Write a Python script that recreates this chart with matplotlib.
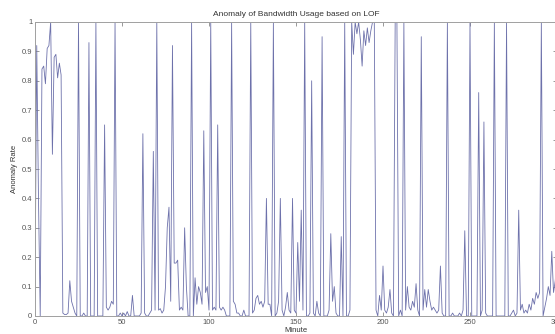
import matplotlib.pyplot as plt

# Anomaly rate per minute (LOF score, 0..300 min)
minutes = list(range(0, 301))
anomaly_rate = [
    0.06, 0.92, 0.40, 0.00, 0.84, 0.85, 0.79, 0.91, 0.92, 1.00,
    0.55, 0.88, 0.89, 0.81, 0.86, 0.82, 0.01, 0.005, 0.005, 0.01,
    0.12, 0.05, 0.03, 0.01, 0.00, 1.00, 0.00, 0.00, 0.01, 0.00,
    0.00, 0.93, 0.00, 0.00, 0.00, 1.00, 0.00, 0.00, 0.00, 0.00,
    0.65, 0.03, 0.02, 0.03, 0.05, 0.04, 1.00, 0.00, 0.00, 0.01,
    0.00, 0.01, 0.00, 0.015, 0.00, 0.00, 0.07, 0.00, 0.00, 0.00,
    0.00, 0.01, 0.62, 0.01, 0.00, 0.00, 0.01, 0.02, 0.56, 0.02,
    1.00, 0.02, 0.025, 0.01, 0.02, 0.10, 0.30, 0.37, 0.05, 0.92,
    0.18, 0.18, 0.19, 0.02, 0.03, 0.02, 0.30, 0.10, 0.00, 0.00,
    1.00, 0.00, 0.13, 0.04, 0.10, 0.08, 0.04, 0.63, 0.08, 0.10,
    0.02, 1.00, 0.02, 0.03, 0.02, 0.65, 0.03, 0.02, 0.03, 0.02,
    0.00, 0.00, 0.00, 1.00, 0.05, 0.04, 0.01, 0.01, 0.00, 0.00,
    0.02, 0.00, 0.00, 0.00, 1.00, 0.01, 0.02, 0.06, 0.07, 0.04,
    0.05, 0.03, 0.05, 0.40, 0.04, 0.04, 0.00, 1.00, 0.00, 0.01,
    0.05, 0.40, 0.02, 0.00, 0.03, 0.08, 0.02, 0.01, 0.40, 0.02,
    0.01, 0.25, 0.05, 0.36, 0.02, 1.00, 0.00, 0.00, 0.01, 0.80,
    0.01, 0.00, 0.05, 0.01, 0.00, 0.95, 0.00, 0.00, 0.00, 0.02,
    0.28, 0.05, 0.10, 0.01, 0.00, 0.00, 0.27, 0.00, 1.00, 0.00,
    0.00, 0.02, 1.00, 0.89, 1.00, 0.96, 1.00, 0.94, 0.85, 0.97,
    0.92, 0.98, 0.93, 0.97, 1.00, 1.00, 0.02, 0.00, 0.07, 0.02,
    0.17, 0.02, 0.01, 0.03, 0.09, 0.01, 0.00, 1.00, 1.00, 0.00,
    0.02, 0.00, 1.00, 0.02, 0.10, 0.03, 0.02, 0.05, 0.03, 0.11,
    0.02, 0.00, 0.95, 0.02, 0.09, 0.03, 0.09, 0.05, 0.02, 0.03,
    0.02, 0.01, 0.02, 0.17, 0.01, 0.00, 0.00, 1.00, 0.00, 0.00,
    0.01, 0.00, 0.00, 0.00, 0.01, 0.00, 0.02, 0.29, 0.00, 0.00,
    1.00, 0.00, 0.00, 0.00, 0.00, 0.76, 0.00, 0.02, 0.66, 0.01,
    0.00, 0.00, 0.00, 0.00, 1.00, 0.00, 0.00, 0.00, 0.00, 0.00,
    0.00, 1.00, 0.00, 0.00, 0.01, 0.02, 0.00, 0.01, 0.36, 0.02,
    0.04, 0.01, 0.02, 0.01, 0.04, 0.02, 0.06, 0.04, 0.08, 0.06,
    0.08, 1.00, 0.00, 0.03, 0.06, 0.10, 0.07, 0.22, 0.08, 0.12,
    0.20,
]

x_ticks = [0, 50, 100, 150, 200, 250, 300]
y_ticks = [0, 0.1, 0.2, 0.3, 0.4, 0.5, 0.6, 0.7, 0.8, 0.9, 1]
y_labels = ['0', '0.1', '0.2', '0.3', '0.4', '0.5', '0.6', '0.7', '0.8', '0.9', '1']

plt.rcParams['font.family'] = ['Liberation Sans', 'DejaVu Sans']

fig = plt.figure(figsize=(5.55, 3.34), dpi=100)
ax = fig.add_axes([35 / 555, 18 / 334, 522 / 555, 294 / 334])

ax.plot(minutes, anomaly_rate, color='#6d71ab', linewidth=0.6)

ax.set_xlim(0, 300)
ax.set_ylim(0, 1)
ax.set_xticks(x_ticks)
ax.set_yticks(y_ticks)
ax.set_yticklabels(y_labels)
ax.tick_params(direction='in', length=3, width=0.6, colors='#888888',
               labelcolor='#555555', labelsize=5.5, pad=2,
               top=True, right=True)
for s in ax.spines.values():
    s.set_color('#a0a0a0')
    s.set_linewidth(0.7)

ax.set_title("Anomaly of Bandwidth Usage based on LOF", fontsize=6,
             color='#333333', pad=4)
ax.set_xlabel("Minute", fontsize=5.5, color='#333333', labelpad=1)
ax.set_ylabel("Anomaly Rate", fontsize=5.5, color='#333333', labelpad=3)

fig.savefig("out.png", dpi=100)
